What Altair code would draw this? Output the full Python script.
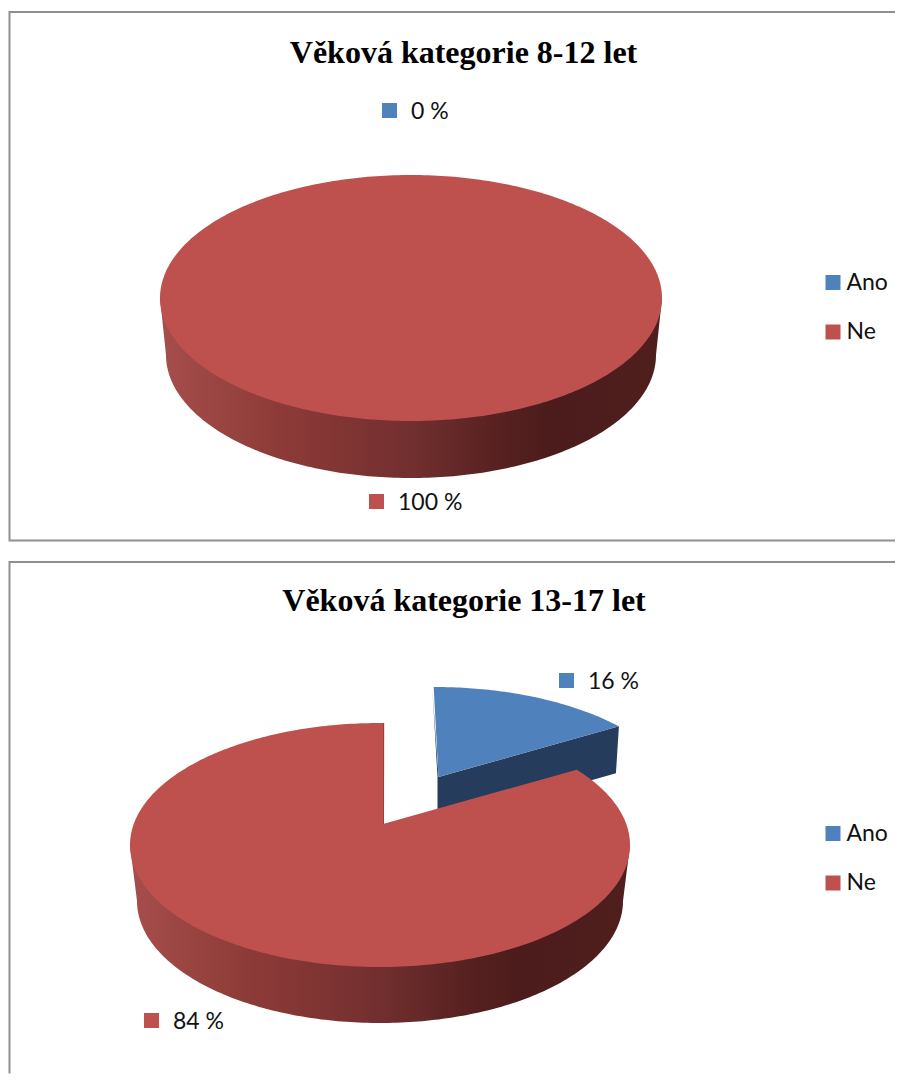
import math
import altair as alt
import pandas as pd

# ---- chart values ----
categories = ["Ano", "Ne"]
titles = ["Věková kategorie 8-12 let", "Věková kategorie 13-17 let"]
values_8_12 = [0, 100]
values_13_17 = [16, 84]

# ---- styles and layout ----
BLUE, RED = "#4F81BD", "#BE504D"
BLUE_DARK, RED_EDGE = "#263C5C", "#9C3F3C"
FRAME = "#8F8F8F"
W, H1, H2 = 888, 537, 530
PAD_X, PAD_Y1, PAD_Y2 = 8, 8, 8 + H1
SIDE = alt.Gradient(
    gradient="linear", x1=0, y1=0, x2=1, y2=0,
    stops=[
        alt.GradientStop(offset=0.0, color="#A64E4B"),
        alt.GradientStop(offset=0.25, color="#8C3A37"),
        alt.GradientStop(offset=0.5, color="#722F2F"),
        alt.GradientStop(offset=0.68, color="#562120"),
        alt.GradientStop(offset=0.78, color="#4B1C1B"),
        alt.GradientStop(offset=1.0, color="#4F1F1E"),
    ],
)
VIEW_SKEW = 2.5  # the 3-D view shifts the wedge boundary slightly
TITLE_SIZE = 32
TEXT_SIZE = 23
LEGEND_X = 821.5 - PAD_X
LEGEND_Y = {PAD_Y1: 271 - PAD_Y1, PAD_Y2: 822 - PAD_Y2}
ROW_PAD = 25.5


def shape(points, oy):
    ring = [[x - PAD_X, y - oy] for x, y in points]
    ring.append(ring[0])
    return {"type": "Feature", "properties": {},
            "geometry": {"type": "Polygon", "coordinates": [ring]}}


def polyline(points, oy):
    return {"type": "Feature", "properties": {},
            "geometry": {"type": "LineString",
                         "coordinates": [[x - PAD_X, y - oy] for x, y in points]}}


def rim(cx, cy, rx, ry, apex, angle):
    """Point of an ellipse rim on the ray leaving the apex at `angle` (deg, clockwise from top)."""
    px, py = (apex[0] - cx) / rx, (apex[1] - cy) / ry
    dx, dy = math.sin(math.radians(angle)), -math.cos(math.radians(angle))
    b = px * dx + py * dy
    s = -b + math.sqrt(b * b + 1 - px * px - py * py)
    return (cx + rx * (px + s * dx), cy + ry * (py + s * dy))


def wedge(cx, cy, rx, ry, apex, a0, a1):
    n = max(2, int(abs(a1 - a0)))
    arc = [rim(cx, cy, rx, ry, apex, a0 + (a1 - a0) * i / n) for i in range(n + 1)]
    return [apex] + arc


def lower_wall(cx, cy, rx, cyb, rxb, ry):
    pts = [(cx - rx, cy)]
    for i in range(181):
        t = math.radians(180 - i)
        pts.append((cx + rxb * math.cos(t), cyb + ry * math.sin(t)))
    pts.append((cx + rx, cy))
    return pts


def geo(feature, **mark):
    return alt.Chart(alt.Data(values=[feature])).mark_geoshape(**mark)


def label_layers(values, positions, oy):
    df = pd.DataFrame({
        "kategorie": categories,
        "hodnota": values,
        "popisek": [f"{v} %" for v in values],
        "lon": [p[0] - PAD_X for p in positions],
        "lat": [p[1] - oy for p in positions],
    })
    squares = alt.Chart(df).mark_point(
        shape="square", filled=True, size=225, opacity=1, strokeWidth=0
    ).encode(
        longitude="lon:Q",
        latitude="lat:Q",
        color=alt.Color(
            "kategorie:N",
            scale=alt.Scale(domain=categories, range=[BLUE, RED]),
            legend=alt.Legend(
                orient="none", legendX=LEGEND_X, legendY=LEGEND_Y[oy], title=None,
                symbolType="square", symbolSize=225, symbolStrokeWidth=0,
                labelFont="Lato", labelFontSize=TEXT_SIZE, labelColor="#111111",
                labelOffset=2, rowPadding=ROW_PAD, symbolOpacity=1,
            ),
        ),
    )
    texts = alt.Chart(df).mark_text(
        align="left", baseline="middle", dx=21.5, dy=1.5, font="Lato", fontSize=TEXT_SIZE, color="#111111"
    ).encode(longitude="lon:Q", latitude="lat:Q", text="popisek:N")
    return [squares, texts]


def title_layer(text, x, y, oy):
    df = pd.DataFrame({"t": [text], "lon": [x - PAD_X], "lat": [y - oy]})
    return alt.Chart(df).mark_text(
        align="center", baseline="middle", font="Liberation Serif", fontWeight="bold",
        fontSize=TITLE_SIZE, color="#000000",
    ).encode(longitude="lon:Q", latitude="lat:Q", text="t:N")


# ---- panel 1: 8-12 years ----
oy = PAD_Y1
cx, cy, rx, ry = 411, 298, 251, 123
p1 = [
    geo(polyline([(895, 12), (9.5, 12), (9.5, 540.5), (895, 540.5)], oy), filled=False, stroke=FRAME, strokeWidth=2),
    geo(shape(lower_wall(cx, cy, rx, cy + 57, 245, ry), oy), fill=SIDE, stroke=None),
    geo(shape(wedge(cx, cy, rx, ry, (cx, cy), 0, 360 * values_8_12[1] / 100)[1:], oy), fill=RED, stroke=None),
    title_layer(titles[0], 463.5, 53, oy),
    *label_layers(values_8_12, [(389.5, 110.5), (376.5, 501.5)], oy),
]
panel1 = alt.layer(*p1).project(type="identity", scale=1, translate=[0, 0]).properties(width=W, height=H1)

# ---- panel 2: 13-17 years ----
oy = PAD_Y2
cx, cy, rx, ry = 380, 845, 250, 122
red_apex = (383, 824)
blue_apex = (438.5, 777)
cut = 360 * values_13_17[0] / 100 + VIEW_SKEW
blue_top = wedge(435, 809, 250, 122, blue_apex, -1.5, cut)
tip = blue_top[-1]
start = blue_top[1]
blue_wall = [(start[0] - 1.2, start[1] + 3), (blue_apex[0] - 1, blue_apex[1]),
             (blue_apex[0] - 1, blue_apex[1] + 47), (tip[0] - 3, tip[1] + 47), tip, blue_apex]
red_top = wedge(cx, cy, rx, ry, red_apex, cut, 360)
red_start = red_top[-1]
red_edge = [red_apex, red_start, (red_start[0] + 1.2, red_start[1]), (red_apex[0] + 1, red_apex[1])]
p2 = [
    geo(polyline([(895, 562), (9.5, 562), (9.5, 1073.5)], oy), filled=False, stroke=FRAME, strokeWidth=2),
    geo(shape(blue_wall, oy), fill=BLUE_DARK, stroke=None),
    geo(shape(blue_top, oy), fill=BLUE, stroke=None),
    geo(shape(lower_wall(cx, cy, rx, cy + 56, 243, ry), oy), fill=SIDE, stroke=None),
    geo(shape(red_edge, oy), fill=RED_EDGE, stroke=None),
    geo(shape(red_top, oy), fill=RED, stroke=None),
    title_layer(titles[1], 464, 601, oy),
    *label_layers(values_13_17, [(566.5, 680.5), (151.5, 1020.5)], oy),
]
panel2 = alt.layer(*p2).project(type="identity", scale=1, translate=[0, 0]).properties(width=W, height=H2)

chart = (
    alt.vconcat(panel1, panel2, spacing=0)
    .resolve_scale(color="independent")
    .properties(padding=0, background="#FFFFFF")
    .configure_view(stroke=None)
)
chart.save("out.html", embed_options={"renderer": "svg", "actions": False})
